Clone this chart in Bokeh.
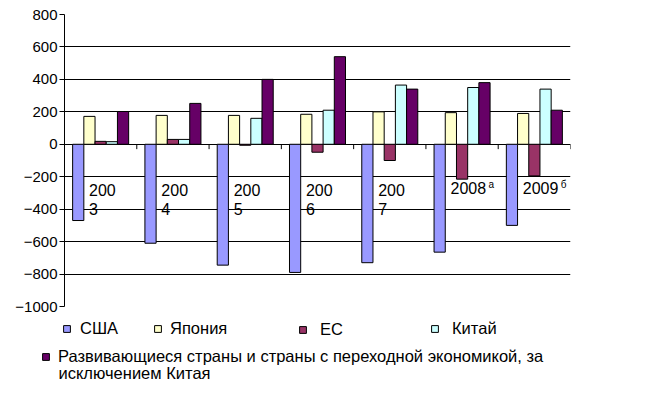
import numpy as np
from bokeh.plotting import figure
from bokeh.layouts import column
from bokeh.models import Range1d, FixedTicker, Legend, LegendItem, Label
from bokeh.core.properties import value
from bokeh.embed import file_html
from bokeh.resources import INLINE

# ---- data ----
years = ["2003", "2004", "2005", "2006", "2007", "2008", "2009"]
footnotes = ["", "", "", "", "", "а", "б"]
series_names = ["США", "Япония", "ЕС", "Китай",
                "Развивающиеся страны и страны с переходной экономикой, за\nисключением Китая"]
usa = [-470, -610, -745, -790, -730, -665, -500]
japan = [172, 178, 178, 185, 200, 195, 190]
eu = [18, 30, -6, -49, -100, -215, -195]
china = [16, 30, 160, 210, 365, 350, 340]
developing = [202, 252, 400, 540, 340, 380, 210]
colors = ["#9999FF", "#FFFFCC", "#993366", "#CCFFFF", "#660066"]
y_ticks = list(range(-1000, 801, 200))

FONT = "Liberation Sans"
n = len(years)

p = figure(width=649, height=318, output_backend="svg", toolbar_location=None,
           x_range=Range1d(0, n), y_range=Range1d(-1000, 800),
           x_axis_location=None,
           min_border_left=64, min_border_right=79, min_border_top=14, min_border_bottom=12)
p.frame_align = False
p.outline_line_color = None

# y axis & grid
p.yaxis.ticker = FixedTicker(ticks=y_ticks)
p.yaxis.minor_tick_line_color = None
p.yaxis.major_tick_out = 5
p.yaxis.major_tick_in = 0
p.yaxis.axis_line_color = "black"
p.yaxis.major_tick_line_color = "black"
p.yaxis.major_label_standoff = 2
p.yaxis.major_label_text_font = FONT
p.yaxis.major_label_text_font_size = "15px"
p.yaxis.major_label_text_color = "black"
p.ygrid.ticker = FixedTicker(ticks=y_ticks)
p.ygrid.grid_line_color = "black"
p.ygrid.grid_line_width = 1
for g in p.xgrid:
    g.visible = False

# bars
bw = 0.155
centers = np.arange(n) + 0.5
series = [usa, japan, eu, china, developing]
for k, (vals, col) in enumerate(zip(series, colors)):
    xs = centers + (k - 2) * bw
    p.vbar(x=xs, top=vals, bottom=0, width=bw, fill_color=col,
           line_color="black", line_width=1)

# category boundary ticks on zero line
bounds = np.arange(1, n + 1)
p.segment(x0=bounds, y0=np.zeros(n), x1=bounds, y1=np.full(n, -30),
          line_color="black", line_width=1)

# category labels (wrapped like the original)
lab_text = [y[:3] + "\n" + y[3:] if not f else y for y, f in zip(years, footnotes)]
p.text(x=centers - 0.16, y=np.full(n, -235), text=lab_text,
       text_baseline="top", text_align="left", text_font=value(FONT),
       text_font_size="16px", text_color="black", text_line_height=1.1)
fn_idx = [i for i, f in enumerate(footnotes) if f]
p.text(x=[centers[i] - 0.16 for i in fn_idx], y=[-235] * len(fn_idx),
       text=[footnotes[i] for i in fn_idx], x_offset=38, y_offset=-3,
       text_baseline="top", text_align="left", text_font=value(FONT),
       text_font_size="10px", text_color="black")

# ---- legend panel below the chart ----
lg = figure(width=649, height=79, output_backend="svg", toolbar_location=None,
            x_range=Range1d(0, n), y_range=Range1d(-1000, 800),
            x_axis_location=None, y_axis_location=None,
            min_border_left=0, min_border_right=0, min_border_top=0, min_border_bottom=0)
lg.frame_align = False
lg.outline_line_color = None
lg.xgrid.visible = False
lg.ygrid.visible = False
legend_renderers = []
for k, (vals, col) in enumerate(zip(series, colors)):
    xs = centers + (k - 2) * bw
    s = lg.scatter(x=xs, y=vals, size=0, marker="square",
                   fill_color=col, line_color="black", line_width=1)
    legend_renderers.append(s)

LEG_SIZE = "16.5px"
legend_locs = [(58, 59), (149, 59), (294, 58), (426, 59), (37, 31)]
standoffs = [5, 4, 9, 9, 4]
first_lines = [name.split("\n")[0] for name in series_names]
for k in range(len(series_names)):
    leg = Legend(items=[LegendItem(label=first_lines[k], renderers=[legend_renderers[k]])],
                 location=legend_locs[k], orientation="vertical",
                 glyph_width=17, glyph_height=17, label_height=19,
                 label_standoff=standoffs[k], padding=0, margin=0, spacing=0,
                 border_line_color=None, background_fill_alpha=0,
                 label_text_font=FONT, label_text_font_size=LEG_SIZE,
                 label_text_color="black")
    lg.add_layout(leg)
# continuation line of the last legend entry
for name in series_names:
    parts = name.split("\n")
    if len(parts) > 1:
        lg.add_layout(Label(x=58, y=25, x_units="screen", y_units="screen",
                            text=parts[1], text_baseline="middle", text_align="left",
                            text_font=FONT, text_font_size=LEG_SIZE, text_color="black"))

layout = column(p, lg, spacing=0)
open("out.html", "w").write(file_html(layout, INLINE))
